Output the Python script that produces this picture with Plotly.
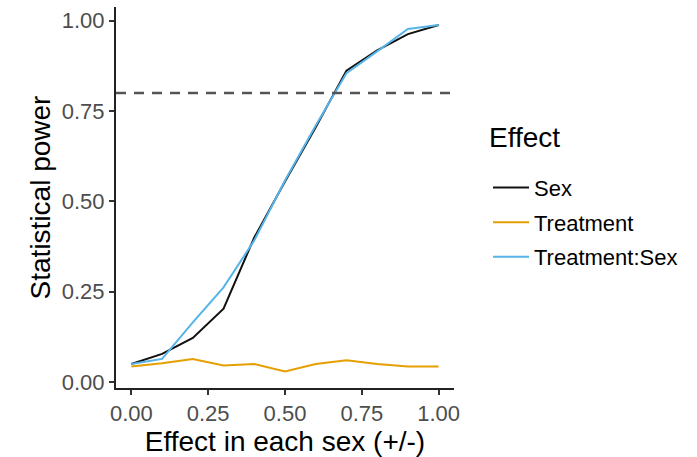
import plotly.graph_objects as go

effect = [0.0, 0.1, 0.2, 0.3, 0.4, 0.5, 0.6, 0.7, 0.8, 0.9, 1.0]
power_sex = [0.050, 0.078, 0.122, 0.203, 0.400, 0.555, 0.705, 0.862, 0.918, 0.963, 0.988]
power_treatment = [0.043, 0.052, 0.064, 0.046, 0.050, 0.029, 0.050, 0.060, 0.050, 0.043, 0.043]
power_interaction = [0.050, 0.064, 0.165, 0.262, 0.392, 0.558, 0.710, 0.855, 0.915, 0.977, 0.988]
series_names = ["Sex", "Treatment", "Treatment:Sex"]
series_colors = ["#111111", "#E69F00", "#56B4E9"]
threshold = 0.8
x_ticks = [0, 0.25, 0.5, 0.75, 1.0]
y_ticks = [0, 0.25, 0.5, 0.75, 1.0]
legend_title = "Effect"

FONT = "Liberation Sans, Arial, Helvetica, sans-serif"

fig = go.Figure()
for name, vals, col in zip(series_names, [power_sex, power_treatment, power_interaction], series_colors):
    fig.add_trace(go.Scatter(
        x=effect, y=vals, mode="lines", name=name, legendgroup=name,
        line=dict(color=col, width=2),
    ))

fig.add_hline(y=threshold, line=dict(color="#555555", width=2.5, dash="10px,8px"))

axis_common = dict(
    showline=True, linecolor="#222222", linewidth=2,
    ticks="outside", ticklen=5, tickwidth=1.5, tickcolor="#333333",
    tickfont=dict(family=FONT, size=22, color="#4d4d4d"),
    showgrid=False, zeroline=False,
)

fig.update_xaxes(
    range=[-0.05, 1.05], tickvals=x_ticks, tickformat=".2f",
    title=dict(text="Effect in each sex (+/-)", font=dict(family=FONT, size=28, color="#000000"), standoff=4),
    **axis_common,
)
fig.update_yaxes(
    range=[-0.0165, 1.038], tickvals=y_ticks, tickformat=".2f",
    title=dict(text="Statistical power", font=dict(family=FONT, size=28, color="#000000"), standoff=3),
    **axis_common,
)

fig.add_annotation(
    text=legend_title, xref="paper", yref="paper",
    x=(487 - 116) / 338, y=(391 - 139) / 384, xanchor="left", yanchor="middle",
    showarrow=False, font=dict(family=FONT, size=28, color="#000000"),
)

fig.update_layout(
    width=697, height=457,
    margin=dict(l=116, r=243, t=7, b=66),
    plot_bgcolor="white", paper_bgcolor="white",
    font=dict(family=FONT),
    legend=dict(
        font=dict(family=FONT, size=22, color="#000000"),
        x=(488 - 116) / 338, y=(391 - 168) / 384, xanchor="left", yanchor="top",
        traceorder="grouped", tracegroupgap=3, itemwidth=36,
        bgcolor="rgba(0,0,0,0)",
    ),
)

fig.write_html("out.html", post_script="document.body.style.margin='0';",
               config={"displayModeBar": False})
